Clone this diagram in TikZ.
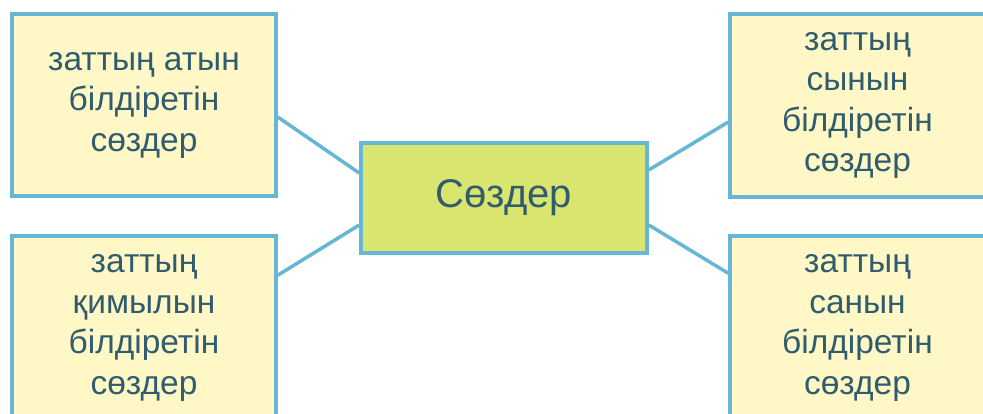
\documentclass[tikz,border=0pt]{standalone}
\usepackage{fontspec}
\setmainfont{Liberation Sans}
\definecolor{boxfill}{HTML}{FFF7C6}
\definecolor{boxline}{HTML}{66B6D6}
\definecolor{midfill}{HTML}{D9E56F}
\definecolor{txt}{HTML}{2F5C6E}
\begin{document}
\begin{tikzpicture}[x=1pt,y=1pt,
  leaf/.style={draw=boxline, line width=3.5pt, fill=boxfill, text=txt,
    align=center, inner sep=0pt, font=\fontsize{33.5}{40.5}\selectfont},
  hub/.style={draw=boxline, line width=3.5pt, fill=midfill, text=txt,
    inner sep=0pt, minimum width=286pt, minimum height=110pt,
    font=\fontsize{40}{46}\selectfont},
  link/.style={draw=boxline, line width=3.5pt}]
\useasboundingbox (0,0) rectangle (983,-413);
\clip (0,0) rectangle (983,-413);
\fill[white] (0,0) rectangle (983,-413);
\node[leaf, minimum width=264pt, minimum height=182pt] (tl) at (144,-105)
  {заттың атын\\білдіретін\\сөздер};
\node[leaf, minimum width=264pt, minimum height=184pt] (bl) at (144,-328)
  {заттың\\қимылын\\білдіретін\\сөздер};
\node[leaf, minimum width=255pt, minimum height=183pt] (tr) at (857.5,-105.5)
  {заттың\\сынын\\білдіретін\\сөздер};
\node[leaf, minimum width=255pt, minimum height=184pt] (br) at (857.5,-328)
  {заттың\\санын\\білдіретін\\сөздер};
\node[hub] (c) at (504,-198) {Сөздер};
\draw[link] ([yshift=-12pt]tl.east) -- ([yshift=25pt]c.west);
\draw[link] ([yshift=-41pt]bl.north east) -- ([yshift=-27pt]c.west);
\draw[link] ([yshift=28pt]c.east) -- ([yshift=-16.5pt]tr.west);
\draw[link] ([yshift=-27pt]c.east) -- ([yshift=-39pt]br.north west);
\end{tikzpicture}
\end{document}
